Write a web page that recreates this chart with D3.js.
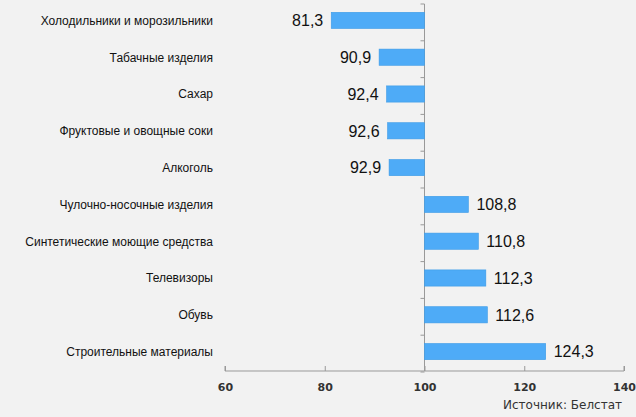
<!DOCTYPE html>
<html><head><meta charset="utf-8">
<script src="https://cdn.jsdelivr.net/npm/d3@7"></script>
<style>body{margin:0;background:#f2f2f2}</style>
</head><body><div id="chart"></div>
<script>
// данные
var categories = ['Холодильники и морозильники','Табачные изделия','Сахар','Фруктовые и овощные соки','Алкоголь','Чулочно-носочные изделия','Синтетические моющие средства','Телевизоры','Обувь','Строительные материалы'];
var values = [81.3, 90.9, 92.4, 92.6, 92.9, 108.8, 110.8, 112.3, 112.6, 124.3];
var xTicks = [60, 80, 100, 120, 140];

var svg = d3.select('#chart').append('svg').attr('width', 636).attr('height', 417)
	.style('background', '#f2f2f2');

var x = d3.scaleLinear().domain([60, 140]).range([225, 624]);
var y = d3.scaleBand().domain(categories).range([2, 370]).paddingInner(0.56).paddingOuter(0.28);
var step = y.step();

// ось X
var xAxis = svg.append('g').attr('transform', 'translate(0,371)')
	.call(d3.axisTop(x).tickValues(xTicks).tickSize(5).tickFormat(d3.format('d')));
xAxis.select('.domain').attr('d', 'M' + x(60) + ',-5V0H' + x(140) + 'V-5').attr('stroke', '#999');
xAxis.selectAll('.tick line').attr('stroke', '#999');
xAxis.selectAll('.tick text').attr('y', 12).attr('dy', '0.71em')
	.style('font', 'bold 11px "DejaVu Sans", Verdana, sans-serif').attr('fill', '#333');

// вертикальная ось на 100
svg.append('line').attr('x1', x(100)).attr('x2', x(100)).attr('y1', 4).attr('y2', 371).attr('stroke', '#999');
svg.selectAll('.ytick').data(d3.range(categories.length + 1)).enter().append('line')
	.attr('x1', x(100) - 4).attr('x2', x(100))
	.attr('y1', function(i){ return 4 + i * step; }).attr('y2', function(i){ return 4 + i * step; })
	.attr('stroke', '#999');

// столбцы
svg.selectAll('.bar').data(values).enter().append('rect')
	.attr('x', function(d){ return x(Math.min(d, 100)); })
	.attr('y', function(d, i){ return y(categories[i]); })
	.attr('width', function(d){ return Math.abs(x(d) - x(100)); })
	.attr('height', y.bandwidth())
	.attr('fill', '#4eabf7').attr('stroke', '#3d9be6').attr('stroke-width', 0.6);

// значения
svg.selectAll('.val').data(values).enter().append('text')
	.attr('x', function(d){ return d < 100 ? x(d) - 8 : x(d) + 8; })
	.attr('y', function(d, i){ return y(categories[i]) + y.bandwidth() / 2; })
	.attr('dy', '0.36em')
	.attr('text-anchor', function(d){ return d < 100 ? 'end' : 'start'; })
	.style('font', '16px "Liberation Sans", Arial, sans-serif').attr('fill', '#111')
	.text(function(d){ return d.toFixed(1).replace('.', ','); });

// категории
svg.selectAll('.cat').data(categories).enter().append('text')
	.attr('x', 213)
	.attr('y', function(d){ return y(d) + y.bandwidth() / 2; })
	.attr('dy', '0.36em').attr('text-anchor', 'end')
	.style('font', '12px "Liberation Sans", Arial, sans-serif').attr('fill', '#111')
	.text(function(d){ return d; });

svg.append('text').attr('x', 622).attr('y', 409).attr('text-anchor', 'end')
	.style('font', '12px "DejaVu Sans", Verdana, sans-serif').attr('fill', '#333')
	.text('Источник: Белстат');
</script></body></html>
